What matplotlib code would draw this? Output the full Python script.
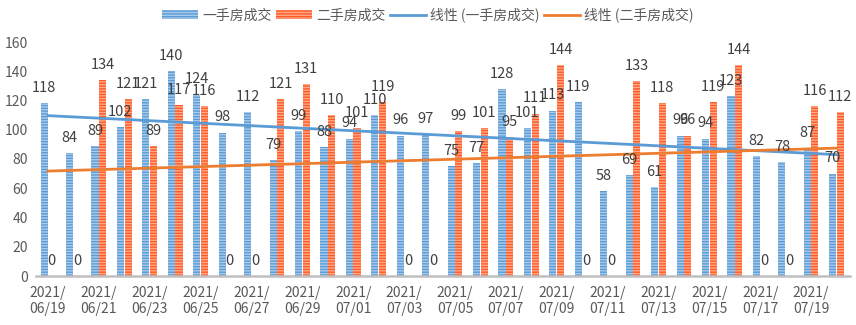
import matplotlib
matplotlib.use("Agg")
import matplotlib.pyplot as plt
import numpy as np
from matplotlib.patches import Patch
from matplotlib.lines import Line2D

plt.rcParams['font.family'] = ['Noto Sans CJK SC', 'DejaVu Sans']
plt.rcParams['hatch.linewidth'] = 1.0

dates = ["06/19", "06/20", "06/21", "06/22", "06/23", "06/24", "06/25", "06/26",
         "06/27", "06/28", "06/29", "06/30", "07/01", "07/02", "07/03", "07/04",
         "07/05", "07/06", "07/07", "07/08", "07/09", "07/10", "07/11", "07/12",
         "07/13", "07/14", "07/15", "07/16", "07/17", "07/18", "07/19", "07/20"]
new_home = [118, 84, 89, 102, 121, 140, 124, 98, 112, 79, 99, 88, 94, 110, 96, 97,
            75, 77, 128, 101, 113, 119, 58, 69, 61, 96, 94, 123, 82, 78, 87, 70]
second_home = [0, 0, 134, 121, 89, 117, 116, 0, 0, 121, 131, 110, 101, 119, 0, 0,
               99, 101, 95, 111, 144, 0, 0, 133, 118, 96, 119, 144, 0, 0, 116, 112]
series_names = ["一手房成交", "二手房成交"]
trend_names = ["线性 (一手房成交)", "线性 (二手房成交)"]
year = "2021"

blue = "#5B9BD5"
blue_h = "#A9CBEB"
orange = "#FF5A24"
orange_h = "#FFA98A"
txt = "#404040"

fig = plt.figure(figsize=(8.56, 3.25), dpi=100)
ax = fig.add_axes([36/856, 49/325, 814/856, 234/325])

x = np.arange(len(dates))
w = 0.28
off = 0.15
ax.bar(x - off, new_home, w, color=blue, edgecolor=blue_h, hatch='------', linewidth=0)
ax.bar(x + off, second_home, w, color=orange, edgecolor=orange_h, hatch='------', linewidth=0)

for xi, v in zip(x - off, new_home):
    ax.annotate(str(v), (xi, v), xytext=(0, 11), textcoords='offset points',
                ha='center', va='center', fontsize=10.5, color=txt)
for xi, v in zip(x + off, second_home):
    ax.annotate(str(v), (xi, v), xytext=(0, 11), textcoords='offset points',
                ha='center', va='center', fontsize=10.5, color=txt)

t = np.arange(1, len(dates) + 1)
p1 = np.polyfit(t, new_home, 1)
p2 = np.polyfit(t, second_home, 1)
ax.plot(x, np.polyval(p1, t), color="#5B9BD5", lw=2)
ax.plot(x, np.polyval(p2, t), color="#ED7D31", lw=2)

ax.set_xlim(-0.47, len(dates) - 0.47)
ax.set_ylim(0, 160)
ax.set_yticks(range(0, 161, 20))
ax.set_xticks(x[::2])
ax.set_xticklabels([f"{year}/\n{d}" for d in dates[::2]])
ax.tick_params(axis='both', length=0, labelsize=10, colors="#595959")
ax.tick_params(axis='x', pad=7)
ax.tick_params(axis='y', pad=6)
for s in ['top', 'right', 'left']:
    ax.spines[s].set_visible(False)
ax.spines['bottom'].set_color("#BFBFBF")
ax.spines['bottom'].set_linewidth(1.8)

handles = [Patch(facecolor=blue, edgecolor=blue_h, hatch='------', linewidth=0, label=series_names[0]),
           Patch(facecolor=orange, edgecolor=orange_h, hatch='------', linewidth=0, label=series_names[1]),
           Line2D([], [], color="#5B9BD5", lw=2, label=trend_names[0]),
           Line2D([], [], color="#ED7D31", lw=2, label=trend_names[1])]
fig.legend(handles=handles, loc='center', bbox_to_anchor=(0.5, 1 - 15/325), ncol=4,
           frameon=False, fontsize=10, labelcolor="#595959", handlelength=2.6,
           handleheight=0.7, handletextpad=0.3, columnspacing=0.3)

fig.savefig("out.png", dpi=100)
